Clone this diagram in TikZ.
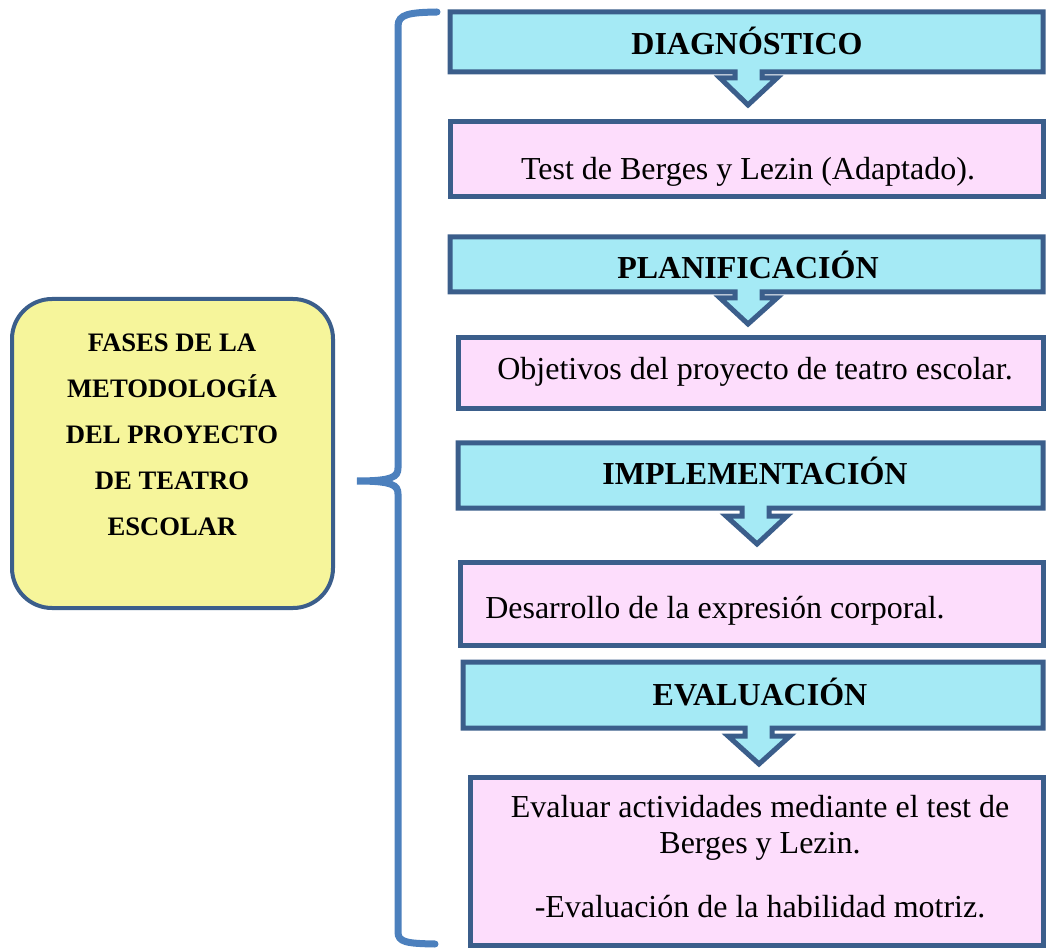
\documentclass[tikz,border=0pt]{standalone}
\usepackage{fontspec}
\setmainfont{Liberation Serif}
\usepackage{xcolor}
\definecolor{framecol}{RGB}{59,94,139}
\definecolor{bracecol}{RGB}{76,128,189}
\definecolor{phasefill}{RGB}{165,234,245}
\definecolor{notefill}{RGB}{253,221,252}
\definecolor{mainfill}{RGB}{246,245,155}

\begin{document}
\begin{tikzpicture}[x=0.75pt,y=0.75pt,yscale=-1,xscale=1,
    phase/.style={draw=framecol, fill=phasefill, line width=3.75pt, line join=miter},
    note/.style={draw=framecol, fill=notefill, line width=3.75pt},
    headtxt/.style={anchor=base, inner sep=0pt, font=\fontsize{24}{27}\selectfont\bfseries},
    bodytxt/.style={anchor=base, inner sep=0pt, font=\fontsize{24}{27}\selectfont}]
    \useasboundingbox (0,0) rectangle (1046,948);

    %Rounded Rect
    \draw [draw=framecol, fill=mainfill, line width=3pt, rounded corners=30pt] (12,299) rectangle (333,608) ;
    %Brace
    \coordinate (tip) at (357,481);
    \draw [bracecol, line width=5.25pt, line cap=round] (437,12) .. controls (410,12.5) and (398,14) .. (398,26) -- (398,468) .. controls (398,477) and (392,481) .. (tip) .. controls (392,481) and (398,485) .. (398,494) -- (398,932) .. controls (398,942) and (406,943.5) .. (435,944) ;

    %Shape: Down Arrow Callout
    \draw [phase] (450,12) -- (1043,12) -- (1043,72) -- (762,72) -- (762,78) -- (777,78) -- (748,105) -- (720,78) -- (735,78) -- (735,72) -- (450,72) -- cycle ;
    %Shape: Rectangle
    \draw [note] (450,122) rectangle (1043,197) ;
    %Shape: Down Arrow Callout
    \draw [phase] (450,237) -- (1043,237) -- (1043,292) -- (762,292) -- (762,298) -- (777,298) -- (748,324) -- (720,298) -- (735,298) -- (735,292) -- (450,292) -- cycle ;
    %Shape: Rectangle
    \draw [note] (458,338) rectangle (1043,409) ;
    %Shape: Down Arrow Callout
    \draw [phase] (458,443) -- (1043,443) -- (1043,508) -- (769,508) -- (769,516) -- (787,516) -- (757,544) -- (726,516) -- (742,516) -- (742,508) -- (458,508) -- cycle ;
    %Shape: Rectangle
    \draw [note] (460,562) rectangle (1043,645) ;
    %Shape: Down Arrow Callout
    \draw [phase] (463,662) -- (1043,662) -- (1043,728) -- (772,728) -- (772,736) -- (790,736) -- (759,764) -- (728,736) -- (745,736) -- (745,728) -- (463,728) -- cycle ;
    %Shape: Rectangle
    \draw [note] (470,777) rectangle (1043,945) ;

    % Text Node
    \draw (172,435) node [inner sep=0pt, align=center, font=\fontsize{20}{34.5}\selectfont\bfseries] (fases) {FASES DE LA\\METODOLOGÍA\\DEL PROYECTO\\DE TEATRO\\ESCOLAR};
    % Text Node
    \draw (747,55) node [headtxt] (diag) {DIAGNÓSTICO};
    % Text Node
    \draw (748,180) node [bodytxt] (diagnote) {Test de Berges y Lezin (Adaptado).};
    % Text Node
    \draw (748,279) node [headtxt] (plan) {PLANIFICACIÓN};
    % Text Node
    \draw (755,380) node [bodytxt] (plannote) {Objetivos del proyecto de teatro escolar.};
    % Text Node
    \draw (755,484) node [headtxt] (impl) {IMPLEMENTACIÓN};
    % Text Node
    \draw (485,618) node [bodytxt, anchor=base west] (implnote) {Desarrollo de la expresión corporal.};
    % Text Node
    \draw (760,705) node [headtxt] (eval) {EVALUACIÓN};
    % Text Node
    \draw (760,817) node [bodytxt] (evalnote) {Evaluar actividades mediante el test de};
    % Text Node
    \draw (760,853) node [bodytxt] (evalnoteb) {Berges y Lezin.};
    % Text Node
    \draw (760,917) node [bodytxt] (evalnotec) {-Evaluación de la habilidad motriz.};

\end{tikzpicture}
\end{document}
